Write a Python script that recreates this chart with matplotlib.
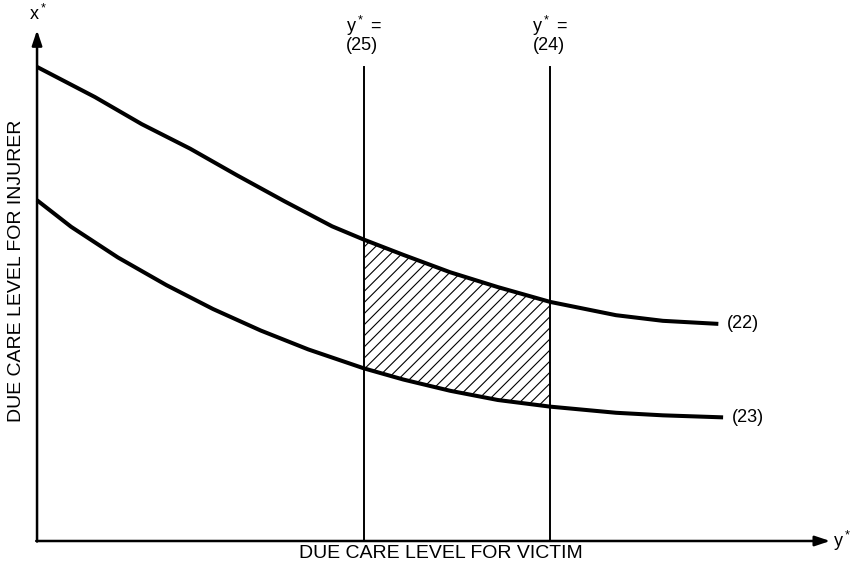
import numpy as np
import matplotlib.pyplot as plt

# due care level for victim (y*) and the two injurer curves (x*)
y22 = [0.0, 7.3, 13.2, 19.3, 25.2, 31.2, 37.2, 41.2, 46.2, 52.1, 58.1, 64.7, 73.0, 78.9, 85.9]
x22 = [92.8, 86.9, 81.6, 76.8, 71.6, 66.5, 61.6, 59.0, 56.0, 52.6, 49.7, 46.8, 44.2, 43.1, 42.5]
y23 = [0.0, 4.3, 10.2, 16.3, 22.2, 28.2, 34.2, 41.2, 46.2, 52.1, 58.1, 64.7, 73.0, 78.9, 86.5]
x23 = [66.7, 61.5, 55.5, 50.1, 45.4, 41.2, 37.5, 33.8, 31.6, 29.4, 27.6, 26.3, 25.1, 24.6, 24.2]

# vertical constraints y* = (25), y* = (24)
vlines_at = [41.2, 64.7]
vline_labels = ['(25)', '(24)']
vline_top = 92.8

plt.rcParams['font.family'] = ['Liberation Sans', 'DejaVu Sans']
plt.rcParams['mathtext.default'] = 'regular'
plt.rcParams['hatch.linewidth'] = 0.8

fig = plt.figure(figsize=(8.5, 5.67), dpi=100)
ax = fig.add_axes([0, 0, 1, 1])
ax.set_xlim(-4.67, 102.5)
ax.set_ylim(-5.09, 105.9)
ax.axis('off')

# axes with arrows
arrow = dict(arrowstyle='-|>,head_length=0.9,head_width=0.3',
             color='black', lw=1.8, shrinkA=0, shrinkB=0)
ax.annotate('', xy=(100, 0), xytext=(-0.1, 0), arrowprops=arrow)
ax.annotate('', xy=(0, 100), xytext=(0, -0.1), arrowprops=arrow)

ax.plot(y22, x22, color='black', lw=2.9, solid_capstyle='butt', solid_joinstyle='round')
ax.plot(y23, x23, color='black', lw=2.9, solid_capstyle='butt', solid_joinstyle='round')

# hatched area between the curves and the two vertical lines
a22, b22 = np.array(y22), np.array(x22)
a23, b23 = np.array(y23), np.array(x23)
m22 = (a22 >= vlines_at[0]) & (a22 <= vlines_at[1])
m23 = (a23 >= vlines_at[0]) & (a23 <= vlines_at[1])
poly_x = np.concatenate([a22[m22], a23[m23][::-1]])
poly_y = np.concatenate([b22[m22], b23[m23][::-1]])
ax.fill(poly_x, poly_y, facecolor='none', edgecolor='black', hatch='///', linewidth=0)

for xv, lab in zip(vlines_at, vline_labels):
    ax.plot([xv, xv], [0, vline_top], color='black', lw=1.4)
    ax.text(xv, 100.9, 'y$^*$ =', ha='center', va='center', fontsize=13)
    ax.text(xv - 0.2, 96.9, lab, ha='center', va='center', fontsize=13)

ax.text(87.0, 42.6, '(22)', ha='left', va='center', fontsize=13)
ax.text(87.6, 24.1, '(23)', ha='left', va='center', fontsize=13)

ax.text(0.1, 103.1, 'x$^*$', ha='center', va='center', fontsize=13)
ax.text(100.3, 0, 'y$^*$', ha='left', va='center', fontsize=13)

ax.text(50.9, -2.35, 'DUE CARE LEVEL FOR VICTIM', ha='center', va='center', fontsize=14)
ax.text(-2.55, 52.8, 'DUE CARE LEVEL FOR INJURER', ha='center', va='center',
        rotation=90, fontsize=14)

fig.savefig('out.png', dpi=100)
